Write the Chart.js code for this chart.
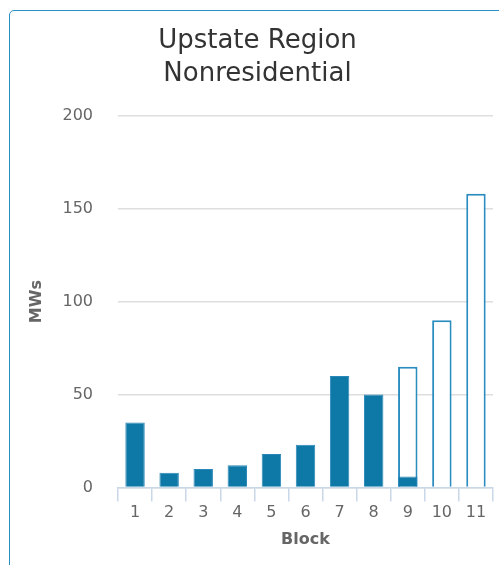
<!DOCTYPE html>
<html>
<head>
<meta charset="utf-8">
<script src="https://cdn.jsdelivr.net/npm/chart.js@4.4.0/dist/chart.umd.min.js"></script>
<style>
  body { margin: 0; background: #fff; overflow: hidden; }
  #card {
    position: absolute; left: 9px; top: 10px; width: 540px; height: 600px;
    border: 1.5px solid #2a8fc4; border-radius: 5px; box-sizing: border-box;
  }
  #wrap { position: absolute; left: 0; top: 0; width: 499px; height: 565px; }
</style>
</head>
<body>
<div id="card"></div>
<div id="wrap"><canvas id="chart"></canvas></div>
<script>
// blocks and MW values
var blocks = ["1", "2", "3", "4", "5", "6", "7", "8", "9", "10", "11"];
var installed = [35, 8, 10, 12, 18, 23, 60, 50, 6, null, null];
var remaining = [null, null, null, null, null, null, null, null, 65, 90, 158];
var yTicks = [0, 50, 100, 150, 200];

var fontName = "'DejaVu Sans', sans-serif";

var ctx = document.getElementById("chart").getContext("2d");
var myChart = new Chart(ctx, {
    type: 'bar',
    data: {
        labels: blocks,
        datasets: [{
            label: 'Installed',
            data: installed,
            backgroundColor: '#0e78a6',
            borderColor: '#2a88b8',
            borderWidth: 1
        }, {
            label: 'Block size',
            data: remaining,
            backgroundColor: '#ffffff',
            borderColor: '#2a8cbf',
            borderWidth: 2
        }]
    },
    options: {
        responsive: true,
        maintainAspectRatio: false,
        animation: false,
        barPercentage: 0.57,
        categoryPercentage: 1,
        layout: { padding: { left: 22, right: 6, top: 24, bottom: 16 } },
        plugins: {
            legend: { display: false },
            tooltip: { enabled: false },
            title: {
                display: true,
                text: ["Upstate Region", "Nonresidential"],
                color: '#333333',
                font: { family: fontName, size: 26, weight: 'normal', lineHeight: 1.3 },
                padding: { top: 0, bottom: 24 }
            }
        },
        scales: {
            x: {
                stacked: true,
                border: { display: true, color: '#c9d8e8', width: 1.5 },
                grid: { drawOnChartArea: false, color: '#c9d8e8', tickLength: 14, lineWidth: 1.5 },
                ticks: { color: '#666666', font: { family: fontName, size: 16 }, padding: 2 },
                title: {
                    display: true, text: 'Block', color: '#666666',
                    font: { family: fontName, size: 16, weight: 'bold' }, padding: { top: 5, bottom: 0 }
                }
            },
            y: {
                min: 0,
                max: 200,
                afterBuildTicks: function (axis) {
                    axis.ticks = yTicks.map(function (v) { return { value: v }; });
                },
                afterFit: function (axis) {
                    axis.width = 96;
                },
                border: { display: false },
                grid: { color: '#dedede', drawTicks: false, lineWidth: 1.5 },
                ticks: { color: '#666666', font: { family: fontName, size: 16 }, padding: 25 },
                title: {
                    display: true, text: 'MWs', color: '#666666',
                    font: { family: fontName, size: 16, weight: 'bold' }, padding: { top: 5, bottom: 0 }
                }
            }
        }
    }
});
</script>
</body>
</html>
